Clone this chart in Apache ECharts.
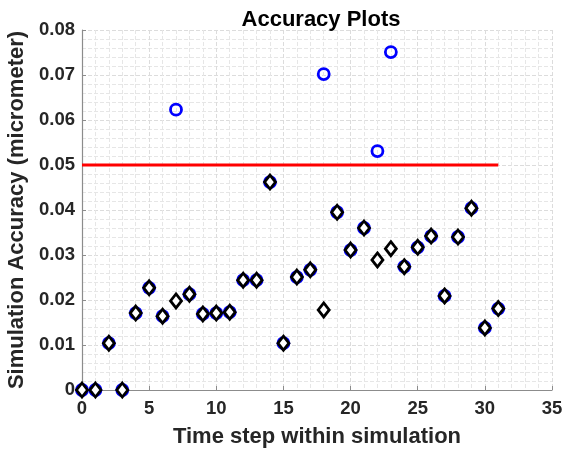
<!DOCTYPE html>
<html>
<head>
<meta charset="utf-8">
<script src="https://cdn.jsdelivr.net/npm/echarts@6/dist/echarts.min.js"></script>
<style>
  html, body { margin: 0; padding: 0; background: #fff; }
  #chart { width: 563px; height: 453px; }
</style>
</head>
<body>
<div id="chart"></div>
<script>
// time steps within the simulation
const steps = [0, 1, 2, 3, 4, 5, 6, 7, 8, 9, 10, 11, 12, 13, 14, 15,
  16, 17, 18, 19, 20, 21, 22, 23, 24, 25, 26, 27, 28, 29, 30, 31];
// raw accuracy (blue circles)
const rawAccuracy = [0, 0, 0.0104, 0, 0.0171, 0.0227, 0.0164, 0.0623, 0.0213, 0.0169,
  0.0171, 0.0173, 0.0244, 0.0244, 0.0462, 0.0104, 0.0251, 0.0267, 0.0702, 0.0395,
  0.0311, 0.0360, 0.0531, 0.0751, 0.0274, 0.0317, 0.0342, 0.0209, 0.0340, 0.0404,
  0.0138, 0.0181];
// corrected accuracy (black diamonds)
const correctedAccuracy = [0, 0, 0.0104, 0, 0.0171, 0.0227, 0.0164, 0.0198, 0.0213, 0.0169,
  0.0171, 0.0173, 0.0244, 0.0244, 0.0462, 0.0104, 0.0251, 0.0267, 0.0178, 0.0395,
  0.0311, 0.0360, 0.0289, 0.0314, 0.0274, 0.0317, 0.0342, 0.0209, 0.0340, 0.0404,
  0.0138, 0.0181];
// limit line
const limitX = [0, 31];
const limitY = [0.05, 0.05];

const chart = echarts.init(document.getElementById("chart"));
const font = "Liberation Sans, Arial, sans-serif";
const axisGray = "#8c8c8c";

const option = {
  animation: false,
  textStyle: { fontFamily: font },
  title: {
    text: "Accuracy Plots",
    left: 316,
    textAlign: "center",
    top: 4,
    textStyle: { fontSize: 22, fontWeight: "bold", color: "#000", fontFamily: font },
  },
  grid: {
    left: 82,
    right: 11,
    top: 30,
    bottom: 63,
    outerBoundsMode: "none",
  },
  xAxis: {
    type: "value",
    min: 0,
    max: 35,
    interval: 5,
    name: "Time step within simulation",
    nameLocation: "middle",
    nameGap: 36,
    nameTextStyle: { fontSize: 22, fontWeight: "bold", color: "#262626", fontFamily: font },
    axisLine: { lineStyle: { color: axisGray, width: 1.2 } },
    axisTick: { inside: true, length: 4, lineStyle: { color: axisGray } },
    axisLabel: { fontSize: 18.5, fontWeight: "bold", color: "#262626", margin: 9, fontFamily: font },
    splitLine: { show: true, lineStyle: { color: "#dcdcdc", type: "dashed" } },
    minorTick: { show: false, splitNumber: 5 },
    minorSplitLine: { show: true, lineStyle: { color: "#e6e6e6", type: "dashed" } },
  },
  yAxis: {
    type: "value",
    min: 0,
    max: 0.08,
    interval: 0.01,
    name: "Simulation Accuracy (micrometer)",
    nameLocation: "middle",
    nameGap: 53,
    nameTextStyle: { fontSize: 22, fontWeight: "bold", color: "#262626", fontFamily: font },
    axisLine: { show: true, lineStyle: { color: axisGray, width: 1.2 } },
    axisTick: { show: true, inside: true, length: 4, lineStyle: { color: axisGray } },
    axisLabel: {
      fontSize: 18.5,
      fontWeight: "bold",
      color: "#262626",
      margin: 7,
      fontFamily: font,
      formatter: (v) => (v === 0 ? "0" : v.toFixed(2)),
    },
    splitLine: { show: true, lineStyle: { color: "#dcdcdc", type: "dashed" } },
    minorTick: { show: false, splitNumber: 5 },
    minorSplitLine: { show: true, lineStyle: { color: "#e6e6e6", type: "dashed" } },
  },
  series: [
    {
      type: "line",
      data: limitX.map((x, i) => [x, limitY[i]]),
      symbol: "none",
      lineStyle: { color: "#ff0000", width: 3 },
      z: 2,
    },
    {
      type: "scatter",
      data: steps.map((s, i) => [s, rawAccuracy[i]]),
      symbol: "circle",
      symbolSize: 11,
      itemStyle: { color: "rgba(255,255,255,0)", borderColor: "#0000ff", borderWidth: 2.8, opacity: 1 },
      clip: false,
      z: 3,
    },
    {
      type: "scatter",
      data: steps.map((s, i) => [s, correctedAccuracy[i]]),
      symbol: "diamond",
      symbolSize: [11, 14],
      itemStyle: { color: "#ffffff", borderColor: "#000000", borderWidth: 2.8, opacity: 1 },
      clip: false,
      z: 4,
    },
  ],
};

chart.setOption(option);
</script>
</body>
</html>
